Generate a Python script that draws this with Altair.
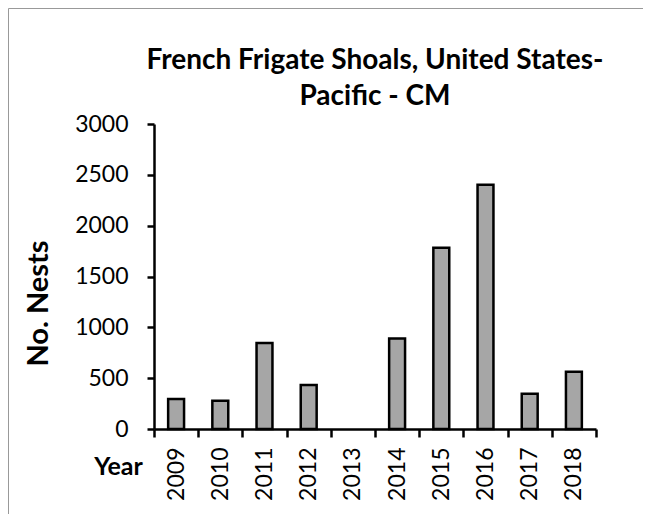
import altair as alt
import pandas as pd

years = ["2009", "2010", "2011", "2012", "2013", "2014", "2015", "2016", "2017", "2018"]
nests = [295, 278, 846, 433, 0, 891, 1783, 2403, 347, 564]
y_ticks = [0, 500, 1000, 1500, 2000, 2500, 3000]

df = pd.DataFrame({"Year": years, "Nests": nests})

W, H = 442, 305
FONT = "Lato"

bars = alt.Chart(df).mark_bar(
    width={"band": 0.36}, fill="#a6a6a6", stroke="#000000", strokeWidth=2.5
).encode(
    x=alt.X("Year:N", sort=years,
            scale=alt.Scale(paddingInner=0, paddingOuter=0),
            axis=alt.Axis(title="Year", tickBand="extent", labelAngle=270,
                          labelAlign="right", labelBaseline="middle",
                          labelPadding=10, tickSize=8, tickWidth=2.5,
                          domainWidth=2.5, domainColor="#000", tickColor="#000",
                          labelFont=FONT, labelFontSize=23, labelColor="#000",
                          titleFont=FONT, titleFontSize=25, titleFontWeight="bold",
                          titleColor="#000", titleX=-36, titleY=37,
                          titleAlign="center", titleBaseline="middle")),
    y=alt.Y("Nests:Q",
            scale=alt.Scale(domain=[0, 3000], nice=False),
            axis=alt.Axis(title="No. Nests", values=y_ticks, grid=False, format="d",
                          tickSize=7, tickWidth=2.5, domainWidth=2.5,
                          domainColor="#000", tickColor="#000",
                          labelPadding=19, labelFont=FONT, labelFontSize=23,
                          labelColor="#000",
                          titleFont=FONT, titleFontSize=29, titleFontWeight="bold",
                          titleColor="#000", titleX=-116, titleY=179,
                          titleAngle=270, titleAlign="center",
                          titleBaseline="middle")),
    strokeOpacity=alt.condition(alt.datum.Nests > 0, alt.value(1), alt.value(0)),
)

frame = alt.Chart(pd.DataFrame({"a": [0]})).mark_rect(
    fill=None, stroke="#999999", strokeWidth=1
).encode(
    x=alt.value(-145.5), x2=alt.value(W + 200),
    y=alt.value(-115.5), y2=alt.value(H + 200),
)

chart = alt.layer(frame, bars).properties(
    width=W, height=H,
    title=alt.TitleParams(
        text=["French Frigate Shoals, United States-", "Pacific - CM"],
        font=FONT, fontSize=28, fontWeight="bold", color="#000",
        anchor="middle", frame="group", lineHeight=36, baseline="bottom",
        offset=-131,
    ),
    autosize=alt.AutoSizeParams(type="none"),
    padding={"left": 146, "top": 116, "right": 47, "bottom": 85},
).configure_view(stroke=None)

chart.save("out.html", embed_options={"renderer": "svg", "actions": False})
